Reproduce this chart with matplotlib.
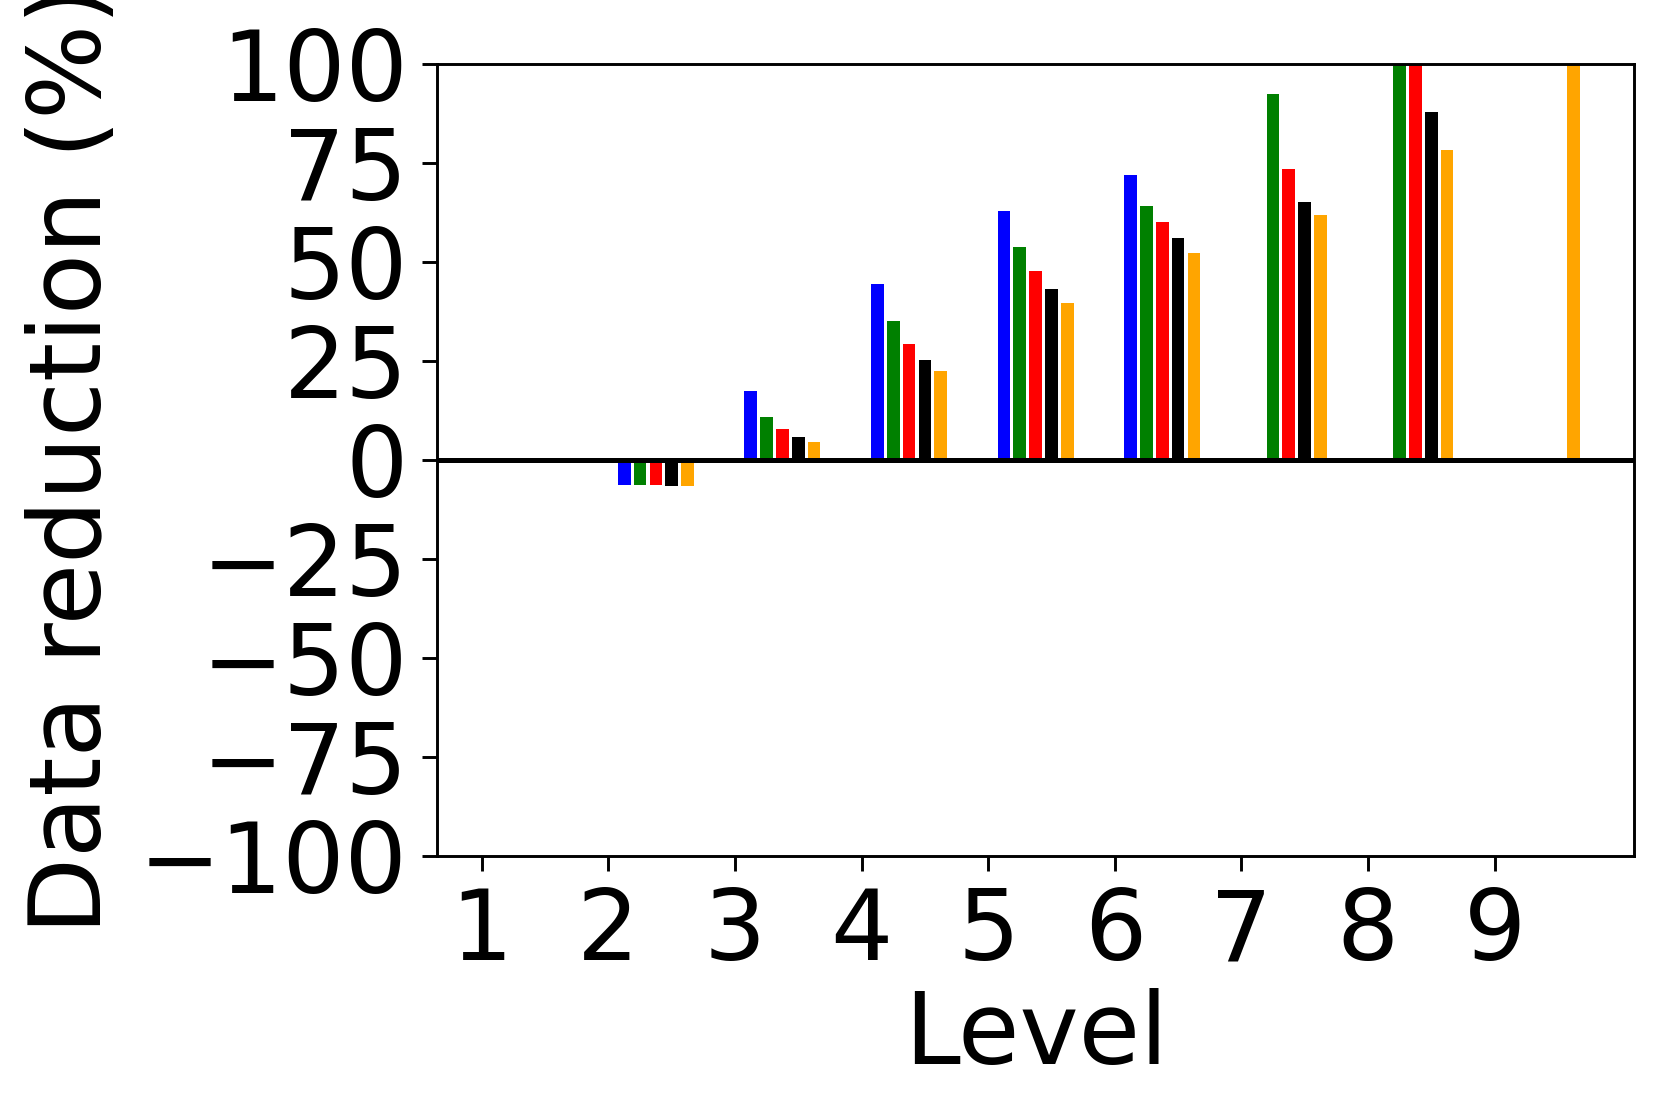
"""
Data reduction per level, grouped bars
"""

### Import modules
import numpy as np
import matplotlib
matplotlib.use('Agg')
import matplotlib.pyplot as plt

### Data
levels = np.arange(1,10)
series_colors = ['blue','green','red','black','orange']
red_blue   = [0, -6.3, 17.3, 44.4, 62.8, 71.8,  0.0,   0.0,   0.0]
red_green  = [0, -6.3, 10.9, 35.0, 53.6, 64.1, 92.4, 100.0,   0.0]
red_red    = [0, -6.4,  7.7, 29.2, 47.6, 60.0, 73.4, 100.0,   0.0]
red_black  = [0, -6.6,  5.8, 25.3, 43.1, 55.9, 65.0,  87.9,   0.0]
red_orange = [0, -6.7,  4.5, 22.3, 39.6, 52.1, 61.7,  78.3, 100.0]
reductions = [red_blue,red_green,red_red,red_black,red_orange]
yticks = [-100,-75,-50,-25,0,25,50,75,100]

### Plot
fig = plt.figure(figsize=(1661/300.,1117/300.))
ax = fig.add_axes([0.263,0.2337,0.721,0.7093])

width = 0.1
for i in range(len(reductions)):
    ax.bar(levels + 0.125*(i+1),reductions[i],width,color=series_colors[i])

ax.axhline(0,color='k',linewidth=1.2)
ax.set_ylim(-100,100)
ax.set_yticks(yticks)
ax.set_xticks(levels)
ax.tick_params(labelsize=23.5,width=0.7,length=3.5)
for s in ax.spines.values():
    s.set_linewidth(0.7)
ax.set_xlabel('Level',fontsize=24,labelpad=2)
ax.set_ylabel('Data reduction (%)',fontsize=24,labelpad=4)

plt.savefig('out.png',dpi=300)
